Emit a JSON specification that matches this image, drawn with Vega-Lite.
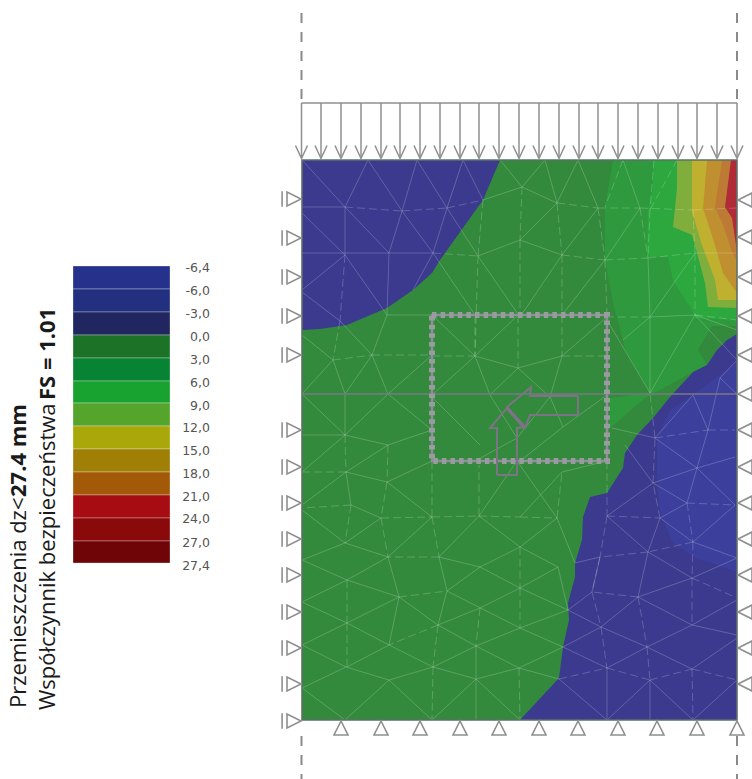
{"$schema":"https://vega.github.io/schema/vega-lite/v6.json","width":752,"height":779,"padding":0,"autosize":{"type":"none"},"background":"white","view":{"stroke":null},
"resolve":{"scale":{"fill":"independent"}},
"datasets":{
"poly":[
{"p":"base","l":"m","i":0,"x":302,"y":160},{"p":"base","l":"m","i":1,"x":737,"y":160},{"p":"base","l":"m","i":2,"x":737,"y":720},{"p":"base","l":"m","i":3,"x":302,"y":720},
{"p":"tl","l":"b","i":0,"x":302,"y":160},{"p":"tl","l":"b","i":1,"x":500,"y":160},{"p":"tl","l":"b","i":2,"x":483,"y":200},{"p":"tl","l":"b","i":3,"x":440,"y":260},{"p":"tl","l":"b","i":4,"x":432,"y":273},{"p":"tl","l":"b","i":5,"x":413,"y":290},{"p":"tl","l":"b","i":6,"x":387,"y":308},{"p":"tl","l":"b","i":7,"x":347,"y":325},{"p":"tl","l":"b","i":8,"x":320,"y":329},{"p":"tl","l":"b","i":9,"x":302,"y":330},
{"p":"g2","l":"g2","i":0,"x":613,"y":160},{"p":"g2","l":"g2","i":1,"x":605,"y":207},{"p":"g2","l":"g2","i":2,"x":605,"y":260},{"p":"g2","l":"g2","i":3,"x":613,"y":303},{"p":"g2","l":"g2","i":4,"x":623,"y":340},{"p":"g2","l":"g2","i":5,"x":625,"y":350},{"p":"g2","l":"g2","i":6,"x":650,"y":393},{"p":"g2","l":"g2","i":7,"x":610,"y":398},{"p":"g2","l":"g2","i":8,"x":610,"y":428},{"p":"g2","l":"g2","i":9,"x":645,"y":398},{"p":"g2","l":"g2","i":10,"x":693,"y":372},{"p":"g2","l":"g2","i":11,"x":707,"y":365},{"p":"g2","l":"g2","i":12,"x":698,"y":350},{"p":"g2","l":"g2","i":13,"x":712,"y":326},{"p":"g2","l":"g2","i":14,"x":737,"y":326},{"p":"g2","l":"g2","i":15,"x":737,"y":160},
{"p":"br","l":"b","i":0,"x":737,"y":334},{"p":"br","l":"b","i":1,"x":727,"y":340},{"p":"br","l":"b","i":2,"x":717,"y":350},{"p":"br","l":"b","i":3,"x":707,"y":365},{"p":"br","l":"b","i":4,"x":693,"y":372},{"p":"br","l":"b","i":5,"x":670,"y":397},{"p":"br","l":"b","i":6,"x":653,"y":418},{"p":"br","l":"b","i":7,"x":637,"y":435},{"p":"br","l":"b","i":8,"x":625,"y":453},{"p":"br","l":"b","i":9,"x":623,"y":468},{"p":"br","l":"b","i":10,"x":607,"y":493},{"p":"br","l":"b","i":11,"x":590,"y":497},{"p":"br","l":"b","i":12,"x":583,"y":517},{"p":"br","l":"b","i":13,"x":582,"y":540},{"p":"br","l":"b","i":14,"x":575,"y":563},{"p":"br","l":"b","i":15,"x":575,"y":577},{"p":"br","l":"b","i":16,"x":568,"y":603},{"p":"br","l":"b","i":17,"x":569,"y":620},{"p":"br","l":"b","i":18,"x":563,"y":647},{"p":"br","l":"b","i":19,"x":559,"y":678},{"p":"br","l":"b","i":20,"x":520,"y":720},{"p":"br","l":"b","i":21,"x":737,"y":720},
{"p":"lb","l":"b2","i":0,"x":737,"y":362},{"p":"lb","l":"b2","i":1,"x":693,"y":395},{"p":"lb","l":"b2","i":2,"x":670,"y":410},{"p":"lb","l":"b2","i":3,"x":657,"y":437},{"p":"lb","l":"b2","i":4,"x":657,"y":480},{"p":"lb","l":"b2","i":5,"x":660,"y":513},{"p":"lb","l":"b2","i":6,"x":673,"y":543},{"p":"lb","l":"b2","i":7,"x":697,"y":558},{"p":"lb","l":"b2","i":8,"x":737,"y":572},
{"p":"g3","l":"g3","i":0,"x":653,"y":160},{"p":"g3","l":"g3","i":1,"x":653,"y":188},{"p":"g3","l":"g3","i":2,"x":648,"y":210},{"p":"g3","l":"g3","i":3,"x":647,"y":257},{"p":"g3","l":"g3","i":4,"x":668,"y":257},{"p":"g3","l":"g3","i":5,"x":673,"y":280},{"p":"g3","l":"g3","i":6,"x":693,"y":312},{"p":"g3","l":"g3","i":7,"x":695,"y":318},{"p":"g3","l":"g3","i":8,"x":737,"y":320},{"p":"g3","l":"g3","i":9,"x":737,"y":160},
{"p":"ol","l":"ol","i":0,"x":677,"y":160},{"p":"ol","l":"ol","i":1,"x":677,"y":188},{"p":"ol","l":"ol","i":2,"x":673,"y":227},{"p":"ol","l":"ol","i":3,"x":692,"y":235},{"p":"ol","l":"ol","i":4,"x":697,"y":253},{"p":"ol","l":"ol","i":5,"x":705,"y":283},{"p":"ol","l":"ol","i":6,"x":708,"y":307},{"p":"ol","l":"ol","i":7,"x":737,"y":308},{"p":"ol","l":"ol","i":8,"x":737,"y":160},
{"p":"ye","l":"ye","i":0,"x":692,"y":160},{"p":"ye","l":"ye","i":1,"x":692,"y":212},{"p":"ye","l":"ye","i":2,"x":702,"y":245},{"p":"ye","l":"ye","i":3,"x":715,"y":280},{"p":"ye","l":"ye","i":4,"x":718,"y":300},{"p":"ye","l":"ye","i":5,"x":737,"y":300},{"p":"ye","l":"ye","i":6,"x":737,"y":160},
{"p":"oc","l":"oc","i":0,"x":707,"y":160},{"p":"oc","l":"oc","i":1,"x":703,"y":208},{"p":"oc","l":"oc","i":2,"x":714,"y":242},{"p":"oc","l":"oc","i":3,"x":723,"y":273},{"p":"oc","l":"oc","i":4,"x":737,"y":293},{"p":"oc","l":"oc","i":5,"x":737,"y":160},
{"p":"or","l":"or","i":0,"x":722,"y":160},{"p":"or","l":"or","i":1,"x":715,"y":207},{"p":"or","l":"or","i":2,"x":723,"y":225},{"p":"or","l":"or","i":3,"x":732,"y":252},{"p":"or","l":"or","i":4,"x":737,"y":262},{"p":"or","l":"or","i":5,"x":737,"y":160},
{"p":"re","l":"re","i":0,"x":731,"y":160},{"p":"re","l":"re","i":1,"x":725,"y":207},{"p":"re","l":"re","i":2,"x":732,"y":218},{"p":"re","l":"re","i":3,"x":737,"y":252},{"p":"re","l":"re","i":4,"x":737,"y":160}
],
"mesh":[
[302,160,345,207],[368,160,345,207],[368,160,402,211],[417,160,402,211],[417,160,447,208],[463,160,447,208],[463,160,483,200],[302,207,345,207],[345,207,345,255],[345,207,389,253],[402,211,389,253],[402,211,433,253],[447,208,433,253],[447,208,478,256],[483,200,522,187],[302,213,345,255],[302,253,433,253],[302,290,345,255],[302,292,340,321],[345,255,387,315],[389,253,387,315],[433,253,413,290],[433,253,475,315],[478,256,520,317],
[545,160,557,203],[578,160,557,203],[578,160,598,208],[623,160,640,208],[500,160,522,187],[545,160,522,187],[522,187,557,203],[557,203,520,240],[598,208,562,255],[640,208,605,260],[520,240,562,255],[520,240,478,256],[695,253,737,253],[562,255,520,317],[605,260,562,315],[648,258,650,317],[695,253,650,317],[650,317,695,315],[695,315,737,330],[650,317,623,340],[650,317,650,393],[695,315,650,393],[695,315,737,360],[607,320,650,393],
[432,315,475,356],[475,356,518,315],[475,356,432,395],[475,356,490,395],[475,356,518,368],[518,368,562,356],[518,368,490,395],[518,368,550,397],[562,356,550,397],[562,356,607,317],[490,395,517,438],[550,397,517,438],[550,397,563,427],[563,427,607,395],[517,438,475,461],[432,397,480,445],[563,427,520,461],
[340,321,372,355],[387,315,372,355],[387,315,432,315],[302,335,333,360],[333,360,345,394],[372,355,345,394],[372,355,388,394],[333,360,302,394],[388,394,432,355],[345,394,345,435],[302,394,345,435],[388,394,345,435],[388,394,432,430],[345,435,388,445],[388,445,432,430],[302,435,345,435],[345,435,302,472],[388,445,346,472],[346,472,387,482],[346,472,351,505],[346,472,302,505],[387,482,432,461],[387,482,432,517],[351,505,381,518],[302,510,345,543],[381,518,345,543],[345,543,388,557],[345,543,302,560],[432,517,388,557],[479,516,517,461],[479,516,439,557],[479,516,520,547],[388,557,347,580],[388,557,399,597],[439,557,447,591],[439,557,480,567],[480,567,447,591],[480,567,520,547],[480,567,520,588],[520,547,557,518],[520,547,558,567],[520,588,558,567],[558,567,568,610],[557,518,517,461],[557,518,575,563],[562,472,607,461],[562,472,520,517],
[607,516,653,483],[607,516,648,552],[660,518,648,552],[660,518,687,503],[653,483,687,503],[653,483,697,468],[625,445,653,483],[655,438,693,395],[655,438,612,428],[655,438,697,468],[708,430,697,468],[708,430,693,395],[708,430,720,378],[720,378,737,360],[720,378,737,394],[697,468,735,457],[697,468,687,503],[697,468,735,505],[735,505,693,542],[693,542,660,518],[693,542,737,558],[648,552,638,597],[648,552,692,578],[575,563,600,557],[692,578,737,558],[692,578,638,597],[592,592,568,610],[592,592,600,557],[638,597,601,627],[638,597,692,625],[692,625,647,647],[692,625,737,635],[692,625,737,600],[647,647,601,627],[647,647,607,668],[647,647,692,669],[601,627,563,647],[601,627,568,610],[563,647,607,668],[607,668,607,720],[650,680,650,720],[650,680,607,720],[650,680,693,720],[692,669,737,638],[737,680,693,720],[559,679,607,720],
[347,580,302,602],[347,580,302,560],[347,580,399,597],[399,597,389,645],[399,597,347,623],[399,597,438,625],[447,591,438,625],[447,591,520,628],[480,608,520,588],[480,608,438,625],[520,588,568,610],[520,628,568,610],[520,628,476,646],[520,628,563,647],[438,625,476,646],[476,646,433,667],[476,646,476,679],[476,646,519,668],[519,668,563,647],[519,668,476,679],[519,668,559,679],[347,623,302,602],[347,623,389,645],[347,623,302,645],[389,645,347,667],[389,645,433,667],[302,645,346,667],[302,688,346,667],[346,667,389,680],[389,680,433,667],[433,667,476,679],[476,679,476,720],[476,679,432,720],[476,679,520,720],[389,680,345,720],[389,680,432,720],[302,688,345,720]
],
"meshDash":[
[345,207,402,211],[402,211,447,208],[447,208,483,200],[483,200,478,256],[433,253,478,256],[345,255,340,321],[478,256,475,355],
[623,160,605,207],[654,160,650,210],[677,160,650,210],[522,187,520,240],[557,203,598,208],[598,208,640,208],[640,208,693,210],[693,210,737,208],[557,203,562,255],[598,208,605,260],[640,208,648,258],[650,210,648,258],[562,255,605,260],[605,260,648,258],[648,258,695,253],[695,253,693,210],[605,260,607,315],[695,253,695,315],[520,240,520,317],[562,255,562,315],[695,315,737,320],[650,317,607,317],
[518,315,518,368],[562,315,562,356],[475,315,475,356],[432,356,475,356],[562,356,607,356],
[340,321,333,360],[333,360,372,355],[372,355,432,355],[345,435,346,472],[388,445,387,482],[302,472,346,472],[387,482,381,518],[351,505,302,508],[351,505,345,543],[381,518,432,517],[381,518,388,557],[432,517,439,557],[432,461,432,517],[432,517,479,516],[479,516,520,517],[520,517,557,518],[439,557,388,557],[520,547,520,588],[557,518,562,472],[479,516,479,465],
[607,461,607,516],[607,516,660,518],[607,516,600,557],[660,518,653,483],[653,483,655,438],[655,438,708,430],[655,438,650,393],[708,430,735,430],[687,503,735,505],[687,503,693,542],[693,542,648,552],[693,542,692,578],[648,552,600,557],[600,557,592,592],[692,578,737,598],[638,597,592,592],[592,592,601,627],[638,597,647,647],[692,578,692,625],[647,647,650,680],[601,627,607,668],[559,679,607,668],[607,668,650,680],[650,680,692,669],[692,669,693,720],[692,669,737,680],
[347,580,347,623],[399,597,447,591],[480,608,476,646],[520,588,520,628],[438,625,389,645],[438,625,433,667],[347,623,347,667],[519,668,520,720],[433,667,432,720]
],
"bands":[
{"l":"-6,4","a":266,"b":289,"c":"c01"},{"l":"-6,0","a":289,"b":312,"c":"c02"},{"l":"-3,0","a":312,"b":335,"c":"c03"},{"l":"0,0","a":335,"b":358,"c":"c04"},{"l":"3,0","a":358,"b":381,"c":"c05"},{"l":"6,0","a":381,"b":403,"c":"c06"},{"l":"9,0","a":403,"b":426,"c":"c07"},{"l":"12,0","a":426,"b":449,"c":"c08"},{"l":"15,0","a":449,"b":472,"c":"c09"},{"l":"18,0","a":472,"b":495,"c":"c10"},{"l":"21,0","a":495,"b":518,"c":"c11"},{"l":"24,0","a":518,"b":541,"c":"c12"},{"l":"27,0","a":541,"b":563,"c":"c13"}
],
"labels":[
{"t":"-6,4","y":268},{"t":"-6,0","y":291},{"t":"-3,0","y":314},{"t":"0,0","y":337},{"t":"3,0","y":360},{"t":"6,0","y":383},{"t":"9,0","y":406},{"t":"12,0","y":428},{"t":"15,0","y":451},{"t":"18,0","y":474},{"t":"21,0","y":497},{"t":"24,0","y":519},{"t":"27,0","y":543},{"t":"27,4","y":566}
],
"leftS":[{"y":199},{"y":238},{"y":277},{"y":316},{"y":355},{"y":430},{"y":467},{"y":503},{"y":539},{"y":575},{"y":612},{"y":648},{"y":684},{"y":721}],
"rightS":[{"y":200},{"y":237},{"y":277},{"y":316},{"y":355},{"y":394},{"y":430},{"y":467},{"y":503},{"y":539},{"y":575},{"y":612},{"y":648},{"y":684}],
"bottomS":[{"x":341},{"x":381},{"x":420},{"x":460},{"x":499},{"x":539},{"x":578},{"x":618},{"x":657},{"x":697},{"x":737}],
"arrows":[{"x":301.5},{"x":321},{"x":341},{"x":361},{"x":381},{"x":400},{"x":420},{"x":440},{"x":460},{"x":479},{"x":499},{"x":519},{"x":539},{"x":559},{"x":579},{"x":598},{"x":618},{"x":638},{"x":658},{"x":678},{"x":697},{"x":717},{"x":737}],
"dashes":[{"x":301.5,"y":13,"y2":100},{"x":737,"y":13,"y2":100},{"x":301.5,"y":736,"y2":779},{"x":737,"y":736,"y2":779}],
"tunnel":[
{"s":"a","i":0,"x":578,"y":396},{"s":"a","i":1,"x":530,"y":396},{"s":"a","i":2,"x":531,"y":387},{"s":"a","i":3,"x":507,"y":407},{"s":"a","i":4,"x":525,"y":428},{"s":"a","i":5,"x":530,"y":415},{"s":"a","i":6,"x":578,"y":415},{"s":"a","i":7,"x":578,"y":396},
{"s":"b","i":0,"x":497,"y":475},{"s":"b","i":1,"x":497,"y":428},{"s":"b","i":2,"x":490,"y":428},{"s":"b","i":3,"x":507,"y":408},{"s":"b","i":4,"x":525,"y":427},{"s":"b","i":5,"x":517,"y":428},{"s":"b","i":6,"x":517,"y":475},{"s":"b","i":7,"x":497,"y":475}
]
},
"layer":[
{"data":{"name":"poly"},"mark":{"type":"line","interpolate":"linear-closed","strokeWidth":0},"encoding":{"x":{"field":"x","type":"quantitative","axis":null,"scale":{"domain":[0,752],"nice":false,"zero":false}},"y":{"field":"y","type":"quantitative","axis":null,"scale":{"domain":[0,779],"reverse":true,"nice":false,"zero":false}},"detail":{"field":"p"},"order":{"field":"i"},"fill":{"field":"l","type":"nominal","legend":null,"sort":null,"scale":{"domain":["m","b","g2","b2","g3","ol","ye","oc","or","re"],"range":["#338a3c","#3b3a8e","#2f993d","#3c3f9c","#2ca83f","#7fae3c","#c0b030","#c09030","#bd7a35","#b02a38"]}}}},
{"data":{"name":"mesh"},"mark":{"type":"rule","stroke":"#ffffff","strokeOpacity":0.2,"strokeWidth":1},"encoding":{"x":{"field":"0","type":"quantitative"},"y":{"field":"1","type":"quantitative"},"x2":{"field":"2"},"y2":{"field":"3"}}},
{"data":{"name":"meshDash"},"mark":{"type":"rule","stroke":"#ffffff","strokeOpacity":0.2,"strokeWidth":1,"strokeDash":[8,4]},"encoding":{"x":{"field":"0","type":"quantitative"},"y":{"field":"1","type":"quantitative"},"x2":{"field":"2"},"y2":{"field":"3"}}},
{"data":{"values":[{"x":302,"x2":737,"y":160,"y2":720}]},"mark":{"type":"rect","fillOpacity":0,"stroke":"#5f6f68","strokeWidth":1.6},"encoding":{"x":{"field":"x","type":"quantitative"},"x2":{"field":"x2"},"y":{"field":"y","type":"quantitative"},"y2":{"field":"y2"}}},
{"data":{"values":[{"x":302,"x2":737,"y":394}]},"mark":{"type":"rule","stroke":"#7a7886","strokeWidth":1.6},"encoding":{"x":{"field":"x","type":"quantitative"},"x2":{"field":"x2"},"y":{"field":"y","type":"quantitative"}}},
{"data":{"values":[{"x":432,"x2":607,"y":315,"y2":461}]},"mark":{"type":"rect","fillOpacity":0,"stroke":"#8f9096","strokeWidth":2.5},"encoding":{"x":{"field":"x","type":"quantitative"},"x2":{"field":"x2"},"y":{"field":"y","type":"quantitative"},"y2":{"field":"y2"}}},
{"data":{"values":[{"x":432,"x2":607,"y":315,"y2":461}]},"mark":{"type":"rect","fillOpacity":0,"stroke":"#9a9ba0","strokeWidth":6,"strokeDash":[4.5,4.1]},"encoding":{"x":{"field":"x","type":"quantitative"},"x2":{"field":"x2"},"y":{"field":"y","type":"quantitative"},"y2":{"field":"y2"}}},
{"data":{"name":"tunnel"},"mark":{"type":"line","stroke":"#7c7484","strokeWidth":2},"encoding":{"x":{"field":"x","type":"quantitative"},"y":{"field":"y","type":"quantitative"},"detail":{"field":"s"},"order":{"field":"i"}}},
{"data":{"values":[{"x":507,"y":408,"x2":525,"y2":428}]},"mark":{"type":"rule","stroke":"#7c7484","strokeWidth":3.5},"encoding":{"x":{"field":"x","type":"quantitative"},"y":{"field":"y","type":"quantitative"},"x2":{"field":"x2"},"y2":{"field":"y2"}}},
{"data":{"values":[{"x":301.5,"x2":737,"y":103}]},"mark":{"type":"rule","stroke":"#8f8f8f","strokeWidth":1.5},"encoding":{"x":{"field":"x","type":"quantitative"},"x2":{"field":"x2"},"y":{"field":"y","type":"quantitative"}}},
{"data":{"name":"arrows"},"transform":[{"calculate":"103","as":"top"},{"calculate":"158","as":"tip"}],"mark":{"type":"rule","stroke":"#8f8f8f","strokeWidth":1.5},"encoding":{"x":{"field":"x","type":"quantitative"},"y":{"field":"top","type":"quantitative"},"y2":{"field":"tip"}}},
{"data":{"name":"arrows"},"transform":[{"calculate":"158.5","as":"tip"}],"mark":{"type":"point","filled":false,"opacity":1,"stroke":"#8f8f8f","strokeWidth":1.5,"size":784,"shape":"M-0.43,-0.93L0,0L0.43,-0.93"},"encoding":{"x":{"field":"x","type":"quantitative"},"y":{"field":"tip","type":"quantitative"}}},
{"data":{"name":"dashes"},"mark":{"type":"rule","stroke":"#8a8a8a","strokeWidth":2,"strokeDash":[10,9]},"encoding":{"x":{"field":"x","type":"quantitative"},"y":{"field":"y","type":"quantitative"},"y2":{"field":"y2"}}},
{"data":{"name":"leftS"},"transform":[{"calculate":"301","as":"x"}],"mark":{"type":"point","filled":false,"opacity":1,"stroke":"#8f8f8f","strokeWidth":1.6,"size":784,"shape":"M0,0L-1,-0.5L-1,0.5Z M-1.35,-0.55L-1.35,0.55"},"encoding":{"x":{"field":"x","type":"quantitative"},"y":{"field":"y","type":"quantitative"}}},
{"data":{"name":"rightS"},"transform":[{"calculate":"738","as":"x"}],"mark":{"type":"point","filled":false,"opacity":1,"stroke":"#8f8f8f","strokeWidth":1.6,"size":784,"shape":"M0,0L1,-0.5L1,0.5Z"},"encoding":{"x":{"field":"x","type":"quantitative"},"y":{"field":"y","type":"quantitative"}}},
{"data":{"name":"bottomS"},"transform":[{"calculate":"721","as":"y"}],"mark":{"type":"point","filled":false,"opacity":1,"stroke":"#8f8f8f","strokeWidth":1.6,"size":784,"shape":"M0,0L-0.5,1L0.5,1Z"},"encoding":{"x":{"field":"x","type":"quantitative"},"y":{"field":"y","type":"quantitative"}}},
{"data":{"name":"bands"},"transform":[{"calculate":"73","as":"x"},{"calculate":"170","as":"x2"}],"mark":{"type":"rect","stroke":"#ffffff","strokeOpacity":0.3,"strokeWidth":1},"encoding":{"x":{"field":"x","type":"quantitative"},"x2":{"field":"x2"},"y":{"field":"a","type":"quantitative"},"y2":{"field":"b"},"fill":{"field":"c","type":"nominal","legend":null,"scale":{"domain":["c01","c02","c03","c04","c05","c06","c07","c08","c09","c10","c11","c12","c13"],"range":["#25318a","#233080","#222660","#1c7328","#068433","#18a230","#55a52d","#a8a80a","#a07f06","#a35a08","#a60c12","#8a0a0c","#700508"]}}}},
{"data":{"name":"labels"},"transform":[{"calculate":"210","as":"x"}],"mark":{"type":"text","align":"right","baseline":"middle","font":"DejaVu Sans","fontSize":12.5,"fill":"#555555"},"encoding":{"x":{"field":"x","type":"quantitative"},"y":{"field":"y","type":"quantitative"},"text":{"field":"t"}}},
{"data":{"values":[{"t":"Przemieszczenia dz<","x":26,"y":708},{"t":"Współczynnik bezpieczeństwa","x":55,"y":710}]},"mark":{"type":"text","angle":270,"align":"left","baseline":"alphabetic","font":"Open Sans","fontSize":22,"fill":"#1a1a1a"},"encoding":{"x":{"field":"x","type":"quantitative"},"y":{"field":"y","type":"quantitative"},"text":{"field":"t"}}},
{"data":{"values":[{"t":"27.4 mm","x":26,"y":497},{"t":"FS = 1.01","x":55,"y":400}]},"mark":{"type":"text","angle":270,"align":"left","baseline":"alphabetic","font":"Open Sans","fontWeight":"bold","fontSize":22,"fill":"#1a1a1a"},"encoding":{"x":{"field":"x","type":"quantitative"},"y":{"field":"y","type":"quantitative"},"text":{"field":"t"}}}
]}
